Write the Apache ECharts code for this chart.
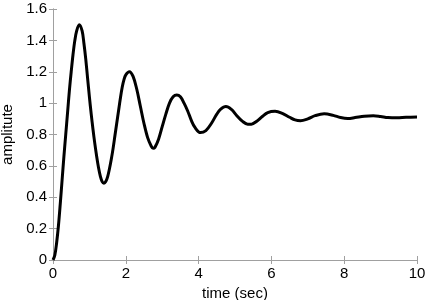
<!DOCTYPE html>
<html>
<head>
<meta charset="utf-8">
<script src="https://cdn.jsdelivr.net/npm/echarts@6/dist/echarts.min.js"></script>
<style>html,body{margin:0;padding:0;background:#fff}#c{width:425px;height:300px}</style>
</head>
<body>
<div id="c"></div>
<script>
var times = [0,0.05,0.1,0.15,0.2,0.25,0.3,0.35,0.4,0.45,0.5,0.55,0.6,0.65,0.72,0.8,0.85,0.9,0.95,1.0,1.05,1.1,1.15,1.2,1.25,1.3,1.35,1.4,1.45,1.5,1.55,1.6,1.65,1.7,1.75,1.8,1.85,1.9,1.95,2.0,2.1,2.2,2.3,2.4,2.5,2.6,2.7,2.75,2.8,2.9,3.0,3.1,3.2,3.3,3.4,3.5,3.6,3.7,3.8,3.9,4.05,4.2,4.35,4.5,4.6,4.75,4.9,5.05,5.2,5.35,5.45,5.6,5.75,5.9,6.1,6.3,6.5,6.65,6.8,7.0,7.2,7.45,7.7,7.9,8.1,8.3,8.55,8.8,9.0,9.2,9.45,9.7,10];
var amplitudes = [0,0.03,0.11,0.22,0.36,0.51,0.66,0.8,0.94,1.08,1.2,1.31,1.4,1.46,1.5,1.46,1.38,1.28,1.16,1.04,0.93,0.83,0.74,0.66,0.59,0.535,0.5,0.49,0.5,0.53,0.58,0.64,0.71,0.79,0.87,0.95,1.03,1.1,1.15,1.18,1.2,1.17,1.09,0.98,0.87,0.78,0.725,0.712,0.718,0.77,0.85,0.93,1.0,1.04,1.052,1.04,1.0,0.95,0.89,0.845,0.812,0.825,0.87,0.93,0.96,0.978,0.96,0.92,0.885,0.866,0.866,0.885,0.915,0.94,0.948,0.935,0.91,0.893,0.888,0.9,0.92,0.932,0.922,0.908,0.902,0.908,0.917,0.92,0.915,0.908,0.906,0.91,0.912];
var xTicks = ['0','2','4','6','8','10'];
var yTicks = ['0','0.2','0.4','0.6','0.8','1','1.2','1.4','1.6'];

var pts = times.map(function(t,i){return [t, amplitudes[i]];});
var axisLine = {show:true, lineStyle:{color:'#a0a0a0', width:1}};
var tick = {show:true, inside:true, length:4, lineStyle:{color:'#a0a0a0'}};
var FONT = 'Liberation Sans, Arial, sans-serif';
var lblFont = {fontFamily:FONT, fontSize:15, color:'#000'};

var chart = echarts.init(document.getElementById('c'), null, {renderer:'canvas'});
chart.setOption({
  animation:false,
  grid:{left:53, right:8, top:9, bottom:40, containLabel:false, outerBoundsMode:'none'},
  xAxis:[{
    type:'value', min:0, max:10, interval:2, position:'bottom',
    name:'time (sec)', nameLocation:'middle', nameGap:23,
    nameTextStyle:{fontFamily:FONT, fontSize:15, color:'#000'},
    axisLine:axisLine, axisTick:tick,
    axisLabel:Object.assign({margin:6, formatter:function(v){var s=String(v);return xTicks.indexOf(s)>=0?s:'';}}, lblFont),
    splitLine:{show:false}
  },{
    type:'value', min:0, max:10, interval:2, position:'top',
    axisLine:axisLine, axisTick:tick, axisLabel:{show:false}, splitLine:{show:false}
  }],
  yAxis:[{
    type:'value', min:0, max:1.6, interval:0.2, position:'left',
    name:'amplitute', nameLocation:'middle', nameGap:35, nameRotate:90,
    nameTextStyle:{fontFamily:FONT, fontSize:15, color:'#000'},
    axisLine:axisLine, axisTick:tick,
    axisLabel:Object.assign({margin:6, formatter:function(v){var s=String(Math.round(v*10)/10);return yTicks.indexOf(s)>=0?s:'';}}, lblFont),
    splitLine:{show:false}
  },{
    type:'value', min:0, max:1.6, interval:0.2, position:'right',
    axisLine:axisLine, axisTick:tick, axisLabel:{show:false}, splitLine:{show:false}
  }],
  series:[{
    type:'line', data:pts, smooth:0.35, showSymbol:false, symbol:'none',
    lineStyle:{color:'#000', width:3}
  }]
});
</script>
</body>
</html>
